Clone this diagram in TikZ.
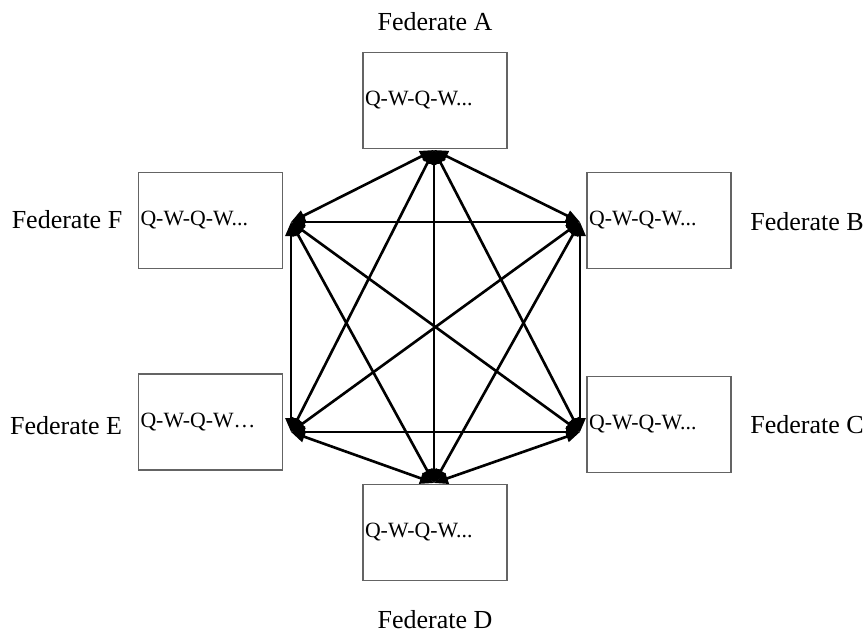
\documentclass[tikz,border=0pt]{standalone}
\usepackage{fontspec}
\setmainfont{Liberation Serif}
\usepackage{tikz}
\usetikzlibrary{arrows.meta, positioning}
\definecolor{boxgray}{RGB}{100,100,100}
\tikzset{
  fedbox/.style={rectangle, draw=boxgray, fill=white, line width=0.6pt,
    minimum width=2.88cm, minimum height=1.92cm, text width=2.8cm,
    inner xsep=1pt, align=left, font=\fontsize{12.4}{14}\selectfont},
  fedlabel/.style={font=\fontsize{14.8}{17}\selectfont, inner sep=0pt},
  link/.style={{Triangle[length=0.28cm, width=0.22cm]}-{Triangle[length=0.28cm, width=0.22cm]},
    line width=1.5pt, color=black}
}

\begin{document}
\begin{tikzpicture}[x=0.02cm, y=-0.02cm]
  \useasboundingbox (0,0) rectangle (865,632);

  % Federate boxes
  \node[fedbox] (fA) at (435,100.5) {Q-W-Q-W...};
  \node[fedbox] (fB) at (659,220.5) {Q-W-Q-W...};
  \node[fedbox] (fC) at (659,424.5) {Q-W-Q-W...};
  \node[fedbox] (fD) at (435,532.5) {Q-W-Q-W...};
  \node[fedbox] (fE) at (210.5,422) {Q-W-Q-W\ldots};
  \node[fedbox] (fF) at (210.5,220.5) {Q-W-Q-W...};

  % Labels
  \node[fedlabel] (lA) at (435,22) {Federate A};
  \node[fedlabel] (lB) at (807,222) {Federate B};
  \node[fedlabel] (lC) at (807,425) {Federate C};
  \node[fedlabel] (lD) at (435,620) {Federate D};
  \node[fedlabel] (lE) at (66,426) {Federate E};
  \node[fedlabel] (lF) at (67,220) {Federate F};

  % Connection points
  \coordinate (pA) at (434,150);
  \coordinate (pB) at (580,222);
  \coordinate (pC) at (580,432);
  \coordinate (pD) at (434,483);
  \coordinate (pE) at (291,432);
  \coordinate (pF) at (291,222);

  % Fully connected links
  \foreach \a/\b in {A/B, A/C, A/D, A/E, A/F, B/C, B/D, B/E, B/F,
                     C/D, C/E, C/F, D/E, D/F, E/F}
    \draw[link] (p\a) -- (p\b);
\end{tikzpicture}
\end{document}
